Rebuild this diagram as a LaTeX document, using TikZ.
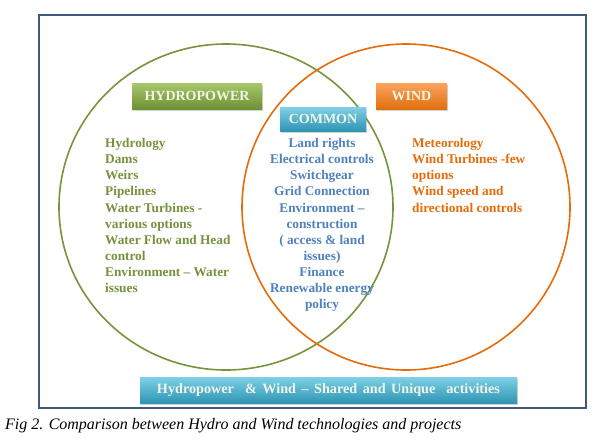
\documentclass[tikz,border=0pt]{standalone}
\usepackage{fontspec}
\setmainfont{Liberation Serif}
\usetikzlibrary{shadows}
\definecolor{framec}{HTML}{3E5A78}
\definecolor{hgreen}{HTML}{77933C}
\definecolor{hgreentext}{HTML}{76923C}
\definecolor{worange}{HTML}{E46C0A}
\definecolor{cblue}{HTML}{4F81BD}
\definecolor{gtop}{HTML}{A6C76A}
\definecolor{gbot}{HTML}{6E9135}
\definecolor{otop}{HTML}{FAA35E}
\definecolor{obot}{HTML}{E0700E}
\definecolor{ctop}{HTML}{7ED0E6}
\definecolor{cbot}{HTML}{2E95B5}
\definecolor{labtext}{HTML}{F2F5E6}
\tikzset{
  labelbox/.style={rectangle, inner sep=0pt, font=\fontsize{14}{16}\selectfont\bfseries, text=labtext,
    drop shadow={shadow xshift=1.2pt, shadow yshift=-1.5pt, opacity=0.35}},
  greenbox/.style={labelbox, top color=gtop, bottom color=gbot},
  orangebox/.style={labelbox, top color=otop, bottom color=obot},
  cyanbox/.style={labelbox, top color=ctop, bottom color=cbot},
  listtext/.style={inner sep=0pt, font=\fontsize{13.3}{16.1}\selectfont\bfseries},
  ring/.style={line width=1.6pt}
}
\begin{document}
\begin{tikzpicture}[x=1pt,y=-1pt]
\useasboundingbox[fill=white] (0,0) rectangle (604,440);
\draw[framec, line width=2pt] (39,15) rectangle (586,408);
\draw[ring, hgreen] (226,207) ellipse [x radius=167, y radius=163];
\draw[ring, worange] (406,207) ellipse [x radius=164, y radius=163];
\node[greenbox, minimum width=130pt, minimum height=26pt] (hydro) at (197,96) {HYDROPOWER};
\node[orangebox, minimum width=71pt, minimum height=26pt] (wind) at (411.5,96) {WIND};
\node[cyanbox, minimum width=86pt, minimum height=24pt] (common) at (323,119) {COMMON};
\node[cyanbox, minimum width=377pt, minimum height=26pt, font=\fontsize{14.2}{16}\selectfont\bfseries] (summary) at (328.5,390) {\spaceskip=5.5pt plus 1pt\relax Hydropower \ \& Wind -- Shared and Unique \ activities};
\node[listtext, text=hgreentext, align=left, anchor=north west] (hlist) at (105,138.2) {Hydrology\\Dams\\Weirs\\Pipelines\\Water Turbines -\\various options\\Water Flow and Head\\control\\Environment -- Water\\issues};
\node[listtext, text=cblue, align=center, anchor=north] (clist) at (322,138.2) {Land rights\\Electrical controls\\Switchgear\\Grid Connection\\Environment --\\construction\\( access \& land\\issues)\\Finance\\Renewable energy\\policy};
\node[listtext, text=worange, align=left, anchor=north west] (wlist) at (412,138.2) {Meteorology\\Wind Turbines -few\\options\\Wind speed and\\directional controls};
\node[inner sep=0pt, anchor=base west, font=\fontsize{16}{18}\selectfont\itshape] (caption) at (5,429) {Fig 2. Comparison between Hydro and Wind technologies and projects};
\end{tikzpicture}
\end{document}
